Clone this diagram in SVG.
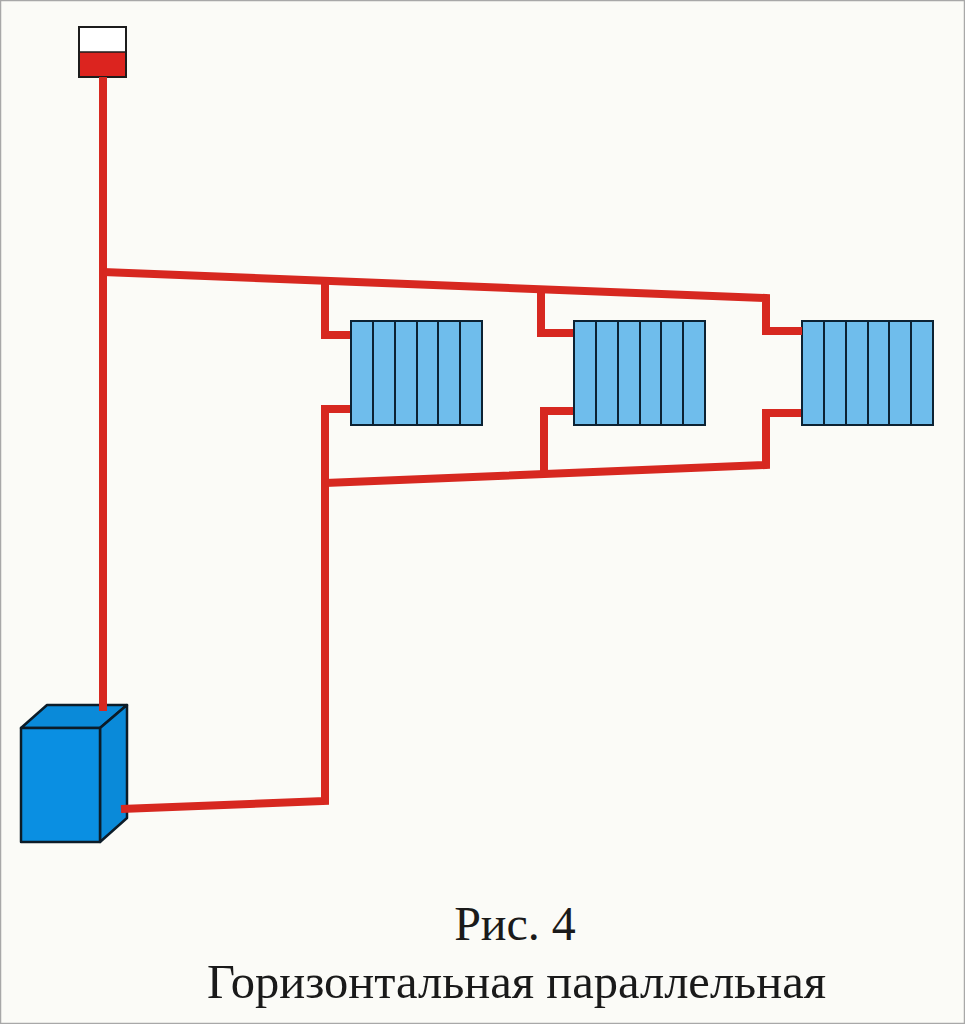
<svg xmlns="http://www.w3.org/2000/svg" width="965" height="1024" viewBox="0 0 965 1024">
<defs>
<g id="rad">
<rect x="0" y="0" width="131" height="104" fill="#6fbdec" stroke="#0c2233" stroke-width="2"/>
<path d="M22 0V104M44 0V104M66 0V104M87 0V104M109 0V104" fill="none" stroke="#0c2233" stroke-width="2"/>
</g>
</defs>
<style>
.pipe{fill:none;stroke:#d72820;stroke-width:8;stroke-linejoin:miter}
.edge{stroke:#0c1c28;stroke-width:2.5;stroke-linejoin:round}
text{font-family:"Liberation Serif","Times New Roman",serif;fill:#1a1a1a;text-anchor:middle}
</style>
<rect x="0.5" y="0.5" width="964" height="1023" fill="#fbfbf7" stroke="#a8a8a8" stroke-width="1.5"/>
<g id="tank">
<rect x="79" y="27" width="47" height="25" fill="#ffffff"/>
<rect x="79" y="52" width="47" height="25" fill="#dc241f"/>
<rect x="79" y="27" width="47" height="50" fill="none" stroke="#1c1c1c" stroke-width="2"/>
<line x1="79" y1="52" x2="126" y2="52" stroke="#1c1c1c" stroke-width="1.5"/>
</g>
<g id="boiler">
<path class="edge" d="M21 728L47 705H127L100 728Z" fill="#0a8ad9"/>
<path class="edge" d="M100 728L127 705V818L100 842Z" fill="#0a8ad9"/>
<rect class="edge" x="21" y="728" width="79" height="114" fill="#0a8fe2"/>
</g>
<g id="radiator-1"><use href="#rad" x="351" y="321"/></g>
<g id="radiator-2"><use href="#rad" x="574" y="321"/></g>
<g id="radiator-3"><use href="#rad" x="802" y="321"/></g>
<g id="connectors">
<path class="pipe" d="M103 77V711"/>
<path class="pipe" d="M103 272L766 298V331H802"/>
<path class="pipe" d="M325 282V335H350"/>
<path class="pipe" d="M541 291V333H573"/>
<path class="pipe" d="M350 409H325V801L121 809"/>
<path class="pipe" d="M325 483L766 465V413H801"/>
<path class="pipe" d="M544 471V411H573"/>
</g>
<g id="caption">
<text x="515" y="940" font-size="48">Рис. 4</text>
<text x="516.5" y="998" font-size="48.5">Горизонтальная параллельная</text>
</g>
</svg>
